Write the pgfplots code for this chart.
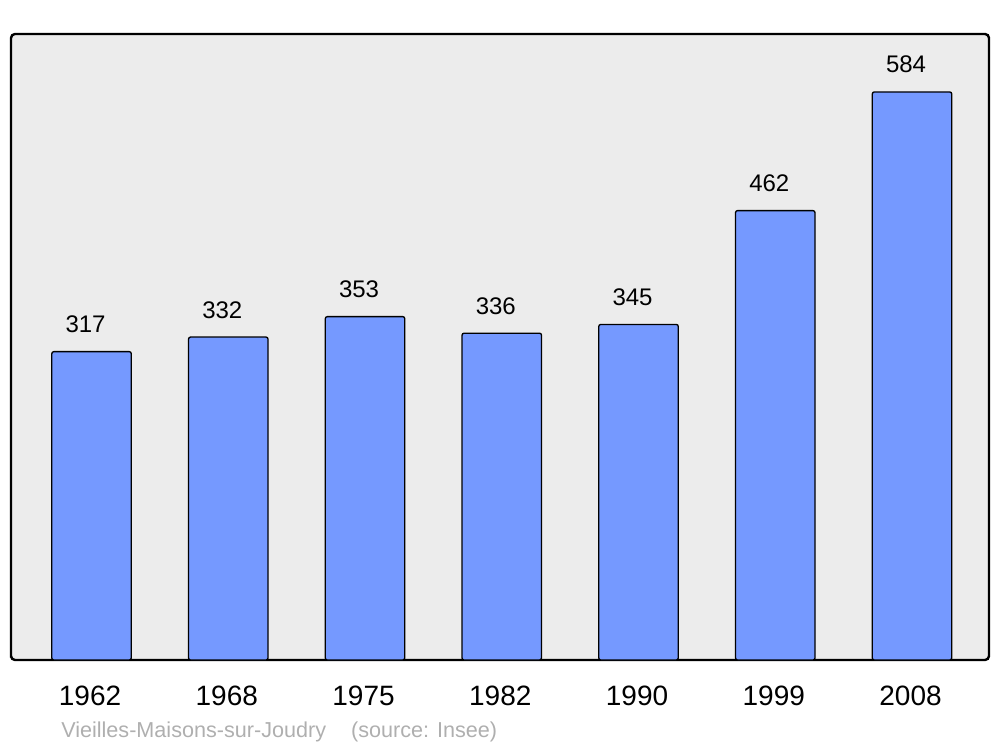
\documentclass[border=0pt]{standalone}
\usepackage{pgfplots}
\pgfplotsset{compat=1.18}
\usepackage{fontspec}
\setmainfont{Liberation Sans}
\definecolor{bgc}{HTML}{ECECEC}
\definecolor{barc}{HTML}{7599FF}
\definecolor{srcc}{HTML}{AFAFAF}
\begin{document}
\begin{tikzpicture}[x=0.75pt,y=0.75pt]
\path (0,0) rectangle (1000,747);
\begin{axis}[
  at={(11*0.75pt,87*0.75pt)}, anchor=south west,
  scale only axis, width=733.5pt, height=469.5pt,
  xmin=-0.589, xmax=6.563, ymin=0, ymax=643.6,
  axis background/.style={fill=bgc, rounded corners=3pt},
  axis line style={line width=1.8pt, rounded corners=3pt},
  ybar, bar width=0.581,
  xtick=data, xticklabels={1962,1968,1975,1982,1990,1999,2008},
  xtick style={draw=none}, ytick=\empty,
  xticklabel style={anchor=base, yshift=-40*0.75pt, xshift=-1.5*0.75pt, font=\fontsize{21pt}{24pt}\selectfont},
  /pgf/number format/assume math mode=true,
  nodes near coords,
  every node near coord/.append style={anchor=base, yshift=19*0.75pt, xshift=-6*0.75pt, font=\fontsize{18pt}{20pt}\selectfont, text=black},
]
\addplot[fill=barc, draw=black, line width=1pt, rounded corners=1.5pt] coordinates {
(0,317) (1,332) (2,353) (3,336) (4,345) (5,462) (6,584)};
\end{axis}
\node[anchor=base west, text=srcc, font=\fontsize{16.2pt}{18pt}\selectfont, inner sep=0pt] at (61,10) {Vieilles-Maisons-sur-Joudry\hspace{18.75pt}(source: Insee)};
\end{tikzpicture}
\end{document}
